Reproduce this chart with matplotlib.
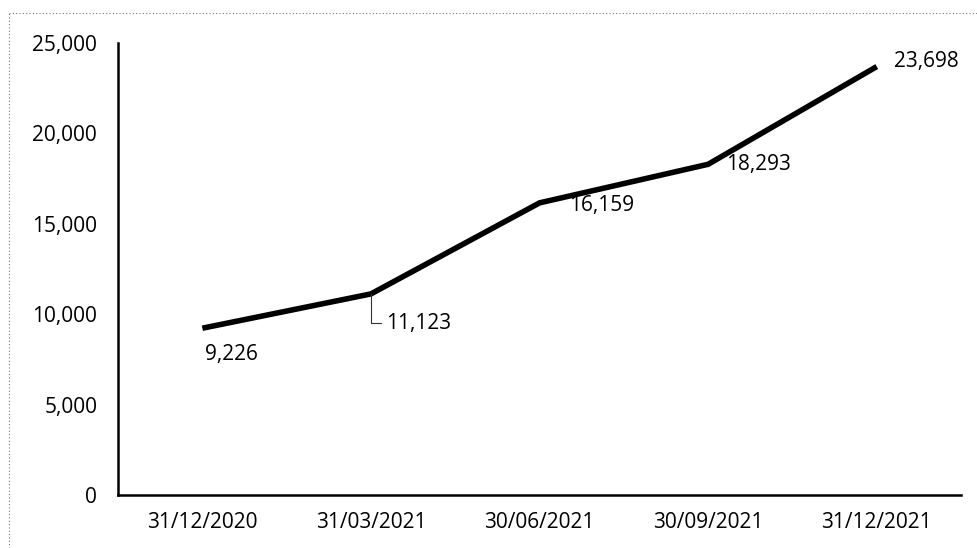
import matplotlib
matplotlib.use('Agg')
import matplotlib.pyplot as plt
from matplotlib.lines import Line2D

dates = ['31/12/2020', '31/03/2021', '30/06/2021', '30/09/2021', '31/12/2021']
values = [9226, 11123, 16159, 18293, 23698]
yticks = [0, 5000, 10000, 15000, 20000, 25000]
# label offsets in points (dx, dy) from each point
offsets = [(21, -19), (11, -21), (45, -2), (36, 0), (36, 4)]

plt.rcParams['font.family'] = ['Open Sans', 'DejaVu Sans']
fs = 15

fig = plt.figure(figsize=(9.78, 5.48), dpi=100)
ax = fig.add_axes([0.1207, 0.0967, 0.862, 0.8248])

x = list(range(len(dates)))
ax.plot(x, values, color='black', lw=4, solid_capstyle='butt', solid_joinstyle='round')

for i, (v, (dx, dy)) in enumerate(zip(values, offsets)):
    label = f'{v:,}'
    if i == 1:
        ax.annotate(label, (i, v), xytext=(dx, dy), textcoords='offset points',
                    ha='left', va='center', fontsize=fs, color='black',
                    arrowprops=dict(arrowstyle='-', lw=0.8, color='#333333',
                                    shrinkA=2, shrinkB=0,
                                    connectionstyle='angle,angleA=0,angleB=90,rad=0'))
    else:
        ax.annotate(label, (i, v), xytext=(dx, dy), textcoords='offset points',
                    ha='center', va='center', fontsize=fs, color='black')

ax.set_xlim(-0.5, len(dates) - 0.5)
ax.set_ylim(0, 25000)
ax.set_xticks(x)
ax.set_xticklabels(dates)
ax.set_yticks(yticks)
ax.set_yticklabels([f'{t:,}' for t in yticks])
ax.tick_params(length=0, labelsize=fs, colors='black')
ax.tick_params(axis='y', pad=15)
ax.tick_params(axis='x', pad=12)
ax.spines[['top', 'right']].set_visible(False)
ax.spines['left'].set_linewidth(1.8)
ax.spines['bottom'].set_linewidth(1.8)

# dotted frame edges of the scanned chart area
fig.add_artist(Line2D([0.009, 1.0], [0.976, 0.976], transform=fig.transFigure,
                      color='#777777', lw=0.8, ls=(0, (1, 2))))
fig.add_artist(Line2D([0.009, 0.009], [0.0, 0.976], transform=fig.transFigure,
                      color='#777777', lw=0.8, ls=(0, (1, 2))))

fig.savefig('out.png', dpi=100, facecolor='white')
